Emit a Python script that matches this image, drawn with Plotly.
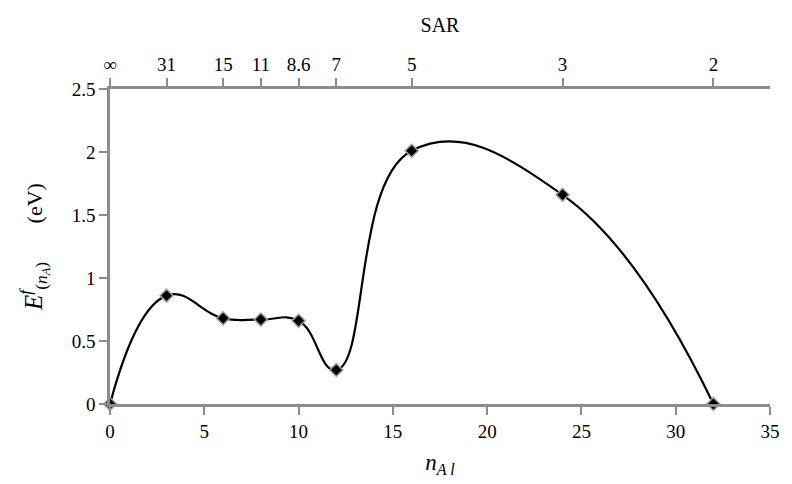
import plotly.graph_objects as go

n_al = [0, 3, 6, 8, 10, 12, 16, 24, 32]
energy = [0.0, 0.86, 0.68, 0.67, 0.66, 0.27, 2.01, 1.66, 0.0]
sar_pos = [0, 3, 6, 8, 10, 12, 16, 24, 32]
sar_text = ["∞", "31", "15", "11", "8.6", "7", "5", "3", "2"]
x_ticks = [0, 5, 10, 15, 20, 25, 30, 35]
y_ticks = [0, 0.5, 1, 1.5, 2, 2.5]
y_text = ["0", "0.5", "1", "1.5", "2", "2.5"]

FONT = "Liberation Serif, Times New Roman, serif"
GRAY = "#8c8c8c"

fig = go.Figure()
fig.add_trace(go.Scatter(
    x=n_al, y=energy, mode="lines+markers",
    line=dict(color="black", width=2.2, shape="spline", smoothing=1.3),
    marker=dict(symbol="diamond", size=10, color="black",
                line=dict(color="#a0a0a0", width=1.5)),
    cliponaxis=False, showlegend=False,
))
fig.add_trace(go.Scatter(x=[0, 35], y=[None, None], xaxis="x2", showlegend=False,
                         hoverinfo="skip"))


def axis_common():
    return dict(showline=True, linecolor=GRAY, linewidth=2.5, ticks="outside",
                tickcolor=GRAY, ticklen=8, tickwidth=1.5, showgrid=False,
                zeroline=False, tickfont=dict(family=FONT, size=19, color="black"))


y_title = ("<span style='font-size:25px'><i>E</i><sup><i>f</i></sup>"
           "<sub>(<i>n<sub>A</sub></i>)</sub></span>"
           "       (eV)")

fig.update_layout(
    width=792, height=484,
    margin=dict(l=110, r=19, t=89, b=78),
    plot_bgcolor="white", paper_bgcolor="white",
    font=dict(family=FONT, size=19, color="black"),
    xaxis=dict(range=[0, 35], tickvals=x_ticks, **axis_common(),
               title=dict(text="<i>n<sub>A l</sub></i>", font=dict(family=FONT, size=23),
                          standoff=14)),
    xaxis2=dict(range=[0, 35], overlaying="x", side="top", tickvals=sar_pos,
                ticktext=sar_text, **axis_common(),
                title=dict(text="SAR", font=dict(family=FONT, size=20), standoff=16)),
    yaxis=dict(range=[0, 2.5], tickvals=y_ticks, ticktext=y_text,
               **axis_common(),
               title=dict(text=y_title, font=dict(family=FONT, size=22), standoff=24)),
)

fig.write_html("out.html")
